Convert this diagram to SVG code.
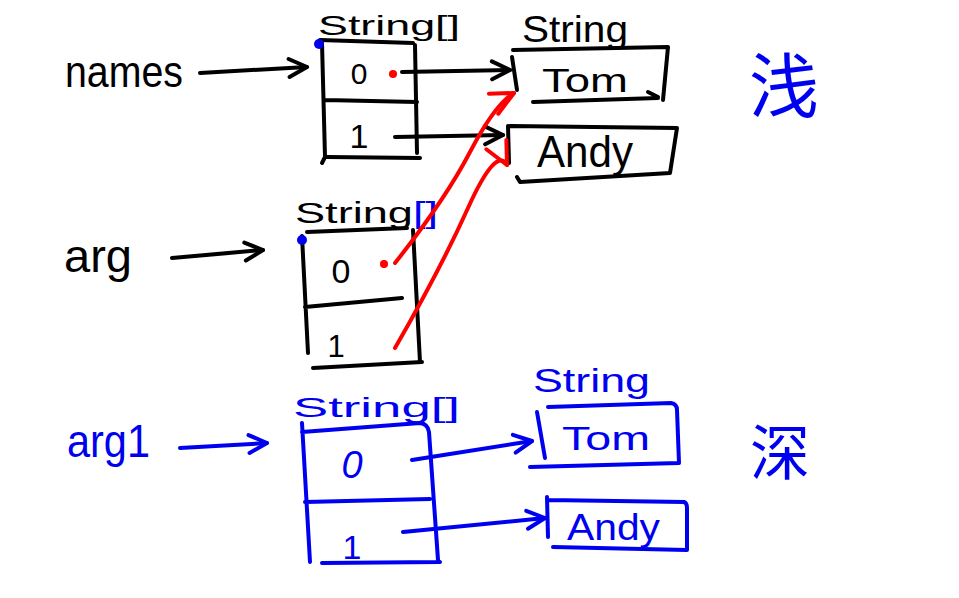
<svg xmlns="http://www.w3.org/2000/svg" width="959" height="598" viewBox="0 0 959 598">
<style>
  .k { stroke: #000; }
  .b { stroke: #0000f0; }
  .r { stroke: #ff0000; }
  .ln { fill: none; stroke-width: 4; stroke-linecap: round; stroke-linejoin: round; }
  .t { font-family: "Liberation Sans", "Noto Sans CJK SC", sans-serif; }
  .tk { fill: #000; }
  .tb { fill: #0000f0; }
  .cjk { font-family: "Noto Sans CJK SC", "Liberation Sans", sans-serif; fill: #0000f0; }
</style>
<defs>
  <marker id="ak" viewBox="0 0 24 24" refX="21" refY="12" markerWidth="24" markerHeight="24" markerUnits="userSpaceOnUse" orient="auto">
    <path d="M3,3 L21,12 L3,21" fill="none" stroke="#000" stroke-width="4" stroke-linecap="round" stroke-linejoin="round"/>
  </marker>
  <marker id="ab" viewBox="0 0 24 24" refX="21" refY="12" markerWidth="24" markerHeight="24" markerUnits="userSpaceOnUse" orient="auto">
    <path d="M3,3 L21,12 L3,21" fill="none" stroke="#0000f0" stroke-width="4" stroke-linecap="round" stroke-linejoin="round"/>
  </marker>
  <marker id="ar" viewBox="0 0 32 32" refX="28" refY="16" markerWidth="32" markerHeight="32" markerUnits="userSpaceOnUse" orient="auto">
    <path d="M6,4 L28,16 L4,26" fill="none" stroke="#ff0000" stroke-width="4" stroke-linecap="round" stroke-linejoin="round"/>
  </marker>
</defs>
<rect x="0" y="0" width="959" height="598" fill="#fff"/>

<!-- Top row: names -->
<g id="names-label">
  <text class="t tk" x="65" y="87" font-size="44" textLength="118" lengthAdjust="spacingAndGlyphs">names</text>
</g>

<g id="names-array">
  <text class="t tk" x="318" y="35" font-size="28" textLength="142" lengthAdjust="spacingAndGlyphs">String[]</text>
  <path class="ln k" d="M320,40 L413,43 M322,43 L325,157 L322,163 M415,45 L417,153 M325,100 L417,102 M327,157 L420,158"/>
  <circle cx="319" cy="44" r="5" fill="#0000f0"/>
  <text class="t tk" x="359" y="84" font-size="30" text-anchor="middle">0</text>
  <text class="t tk" x="359" y="148" font-size="34" text-anchor="middle">1</text>
  <circle cx="393" cy="74" r="4" fill="#ff0000"/>
</g>

<g id="string-tom">
  <text class="t tk" x="522" y="42" font-size="36" textLength="106" lengthAdjust="spacingAndGlyphs">String</text>
  <path class="ln k" d="M513,50 L668,47 L663,100 M512,57 L517,90 M533,102 L658,98 M648,92 L658,97"/>
  <text class="t tk" x="542" y="92" font-size="34" textLength="86" lengthAdjust="spacingAndGlyphs">Tom</text>
</g>

<g id="string-andy">
  <path class="ln k" d="M510,126 L677,128 L670,173 L520,182 L517,177 M508,126 L509,163"/>
  <text class="t tk" x="537" y="167" font-size="44" textLength="96" lengthAdjust="spacingAndGlyphs">Andy</text>
</g>

<g id="label-shallow">
  <text class="cjk" x="784" y="112" font-size="70" text-anchor="middle">浅</text>
</g>

<!-- Middle row: arg -->
<g id="arg-label">
  <text class="t tk" x="64" y="272" font-size="46" textLength="68" lengthAdjust="spacingAndGlyphs">arg</text>
</g>

<g id="arg-array">
  <text class="t tk" x="295" y="223" font-size="30" textLength="143" lengthAdjust="spacingAndGlyphs">String<tspan class="tb">[]</tspan></text>
  <path class="ln k" d="M307,232 L407,228 M302,236 L308,353 M413,230 L420,362 M305,307 L402,298 M313,368 L422,362"/>
  <circle cx="302" cy="240" r="5" fill="#0000f0"/>
  <text class="t tk" x="341" y="283" font-size="34" text-anchor="middle">0</text>
  <text class="t tk" x="336" y="357" font-size="31" text-anchor="middle">1</text>
  <circle cx="384" cy="264" r="4" fill="#ff0000"/>
</g>

<!-- Bottom row: arg1 (deep copy) -->
<g id="arg1-label">
  <text class="t tb" x="67" y="457" font-size="46" textLength="83" lengthAdjust="spacingAndGlyphs">arg1</text>
</g>

<g id="arg1-array">
  <text class="t tb" x="293" y="417" font-size="28" textLength="167" lengthAdjust="spacingAndGlyphs">String[]</text>
  <path class="ln b" d="M302,432 L420,423 Q428,424 429,432 L438,560 M302,423 L310,562 M305,502 L430,499 M322,563 L440,562"/>
  <text class="t tb" x="352" y="478" font-size="38" font-style="italic" text-anchor="middle">0</text>
  <text class="t tb" x="352" y="559" font-size="34" text-anchor="middle">1</text>
</g>

<g id="deep-tom">
  <text class="t tb" x="533" y="392" font-size="34" textLength="117" lengthAdjust="spacingAndGlyphs">String</text>
  <path class="ln b" d="M548,407 L671,403 Q677,404 677,410 L679,463 L530,467 M537,412 L545,458"/>
  <text class="t tb" x="562" y="450" font-size="34" textLength="88" lengthAdjust="spacingAndGlyphs">Tom</text>
</g>

<g id="deep-andy">
  <path class="ln b" d="M548,500 L684,502 Q687,503 687,508 L687,550 L553,547 M547,497 L548,537"/>
  <text class="t tb" x="567" y="540" font-size="36" textLength="93" lengthAdjust="spacingAndGlyphs">Andy</text>
</g>

<g id="label-deep">
  <text class="cjk" x="780" y="475" font-size="60" text-anchor="middle">深</text>
</g>

<!-- Connectors -->
<g id="connectors">
  <path class="ln k" d="M200,73 L307,67" marker-end="url(#ak)"/>
  <path class="ln k" d="M402,72 L510,70" marker-end="url(#ak)"/>
  <path class="ln k" d="M395,137 L503,135" marker-end="url(#ak)"/>
  <path class="ln k" d="M172,258 L263,250" marker-end="url(#ak)"/>
  <path class="ln r" d="M395,263 Q445,200 470,152 T514,93" marker-end="url(#ar)"/>
  <path class="ln r" d="M395,348 Q440,270 468,208 T507,165" marker-end="url(#ar)"/>
  <path class="ln b" d="M180,448 L267,443" marker-end="url(#ab)"/>
  <path class="ln b" d="M412,460 L532,441" marker-end="url(#ab)"/>
  <path class="ln b" d="M403,532 L545,518" marker-end="url(#ab)"/>
</g>
</svg>
